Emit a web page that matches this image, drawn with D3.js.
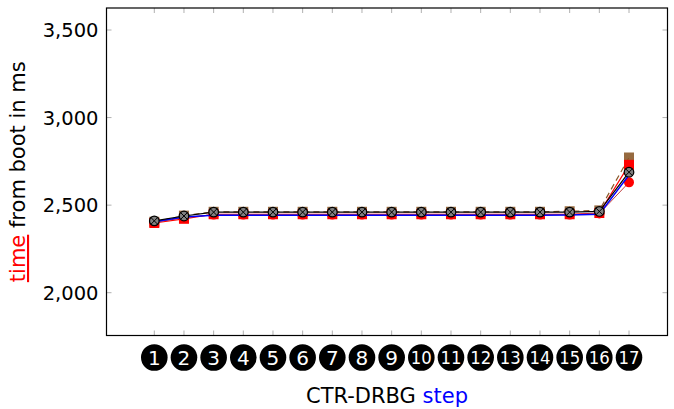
<!DOCTYPE html>
<html><head><meta charset="utf-8">
<script src="https://cdn.jsdelivr.net/npm/d3@7"></script>
<style>body{margin:0;background:#fff}svg{display:block}text{font-family:"DejaVu Sans",sans-serif}</style>
</head><body>
<svg id="c" width="674" height="409"></svg>
<script>
const steps = [1,2,3,4,5,6,7,8,9,10,11,12,13,14,15,16,17];
const yTicks = [2000, 2500, 3000, 3500];
const seriesBrown = [2405,2440,2462,2462,2462,2462,2462,2462,2462,2462,2462,2462,2462,2462,2465,2470,2772];
const seriesRed   = [2398,2422,2448,2448,2448,2448,2448,2448,2448,2448,2448,2448,2448,2448,2448,2455,2730];
const seriesBlue  = [2405,2432,2442,2442,2442,2442,2442,2442,2442,2442,2442,2442,2442,2442,2444,2448,2672];
const seriesRedCircle = [2402,2428,2446,2446,2446,2446,2446,2446,2446,2446,2446,2446,2446,2446,2446,2452,2630];
const seriesBlack = [2410,2438,2460,2460,2460,2460,2460,2460,2460,2460,2460,2460,2460,2460,2460,2464,2688];

const svg = d3.select("#c");
const L = 106.5, R = 667.5, T = 8, B = 335.5;
const x = d3.scaleLinear().domain([1, 17]).range([154.3, 629]);
const y = d3.scaleLinear().domain([2000, 3500]).range([292.7, 30]);

// ticks
const g = svg.append("g");
steps.forEach(s => {
  g.append("line").attr("x1", x(s)).attr("x2", x(s)).attr("y1", B).attr("y2", B-5).attr("stroke", "#b0b0b0").attr("stroke-width", 1);
  g.append("line").attr("x1", x(s)).attr("x2", x(s)).attr("y1", T).attr("y2", T+5).attr("stroke", "#b0b0b0").attr("stroke-width", 1);
});
yTicks.forEach(v => {
  g.append("line").attr("x1", L).attr("x2", L+5).attr("y1", y(v)).attr("y2", y(v)).attr("stroke", "#b0b0b0");
  g.append("line").attr("x1", R).attr("x2", R-5).attr("y1", y(v)).attr("y2", y(v)).attr("stroke", "#b0b0b0");
  g.append("text").attr("x", L-8).attr("y", y(v)).attr("dy", "0.36em").attr("text-anchor", "end")
    .attr("font-size", 19.5).text(d3.format(",")(v));
});

const line = d3.line().x((d,i) => x(steps[i])).y(d => y(d));

// brown dashed squares
svg.append("path").datum(seriesBrown).attr("d", line).attr("fill", "none").attr("stroke", "#8b5a2b").attr("stroke-width", 1.2).attr("stroke-dasharray", "6,4");
svg.selectAll(".bs").data(seriesBrown).enter().append("rect")
  .attr("x", (d,i) => x(steps[i]) - 5).attr("y", d => y(d) - 5).attr("width", 10).attr("height", 10).attr("fill", "#8b5a2b").attr("opacity", 0.9);
// red squares
svg.append("path").datum(seriesRed).attr("d", line).attr("fill", "none").attr("stroke", "red").attr("stroke-width", 1.2);
svg.selectAll(".rs").data(seriesRed).enter().append("rect")
  .attr("x", (d,i) => x(steps[i]) - 5).attr("y", d => y(d) - 5).attr("width", 10).attr("height", 10).attr("fill", "red");
// red circles
svg.append("path").datum(seriesRedCircle).attr("d", line).attr("fill", "none").attr("stroke", "#c04040").attr("stroke-width", 1);
svg.selectAll(".rc").data(seriesRedCircle).enter().append("circle")
  .attr("cx", (d,i) => x(steps[i])).attr("cy", d => y(d)).attr("r", 5).attr("fill", "red");
// blue line
svg.append("path").datum(seriesBlue).attr("d", line).attr("fill", "none").attr("stroke", "blue").attr("stroke-width", 1.4);
svg.selectAll(".bl").data(seriesBlue).enter().append("circle")
  .attr("cx", (d,i) => x(steps[i])).attr("cy", d => y(d)).attr("r", 1.5).attr("fill", "blue");
// black circle-x
svg.append("path").datum(seriesBlack).attr("d", line).attr("fill", "none").attr("stroke", "black").attr("stroke-width", 1.2);
const cx = svg.selectAll(".bx").data(seriesBlack).enter().append("g")
  .attr("transform", (d,i) => `translate(${x(steps[i])},${y(d)})`);
cx.append("circle").attr("r", 4.8).attr("fill", "#808080").attr("stroke", "black").attr("stroke-width", 1.2);
cx.append("path").attr("d", "M-3.4,-3.4L3.4,3.4M-3.4,3.4L3.4,-3.4").attr("stroke", "black").attr("stroke-width", 1);

// frame
svg.append("rect").attr("x", L).attr("y", T).attr("width", R-L).attr("height", B-T).attr("fill", "none").attr("stroke", "black").attr("stroke-width", 1.2);

// circled step labels
const lab = svg.selectAll(".lab").data(steps).enter().append("g")
  .attr("transform", d => `translate(${x(d)},357.5)`);
lab.append("circle").attr("r", 13.3).attr("fill", "black");
lab.append("text").attr("text-anchor", "middle").attr("dy", "0.36em").attr("fill", "white")
  .attr("font-size", d => d >= 10 ? 17 : 20)
  .attr("textLength", d => d >= 10 ? 21 : null).attr("lengthAdjust", "spacingAndGlyphs")
  .text(d => d);

// axis labels
const xl = svg.append("text").attr("x", (L+R)/2).attr("y", 403).attr("text-anchor", "middle").attr("font-size", 21);
xl.append("tspan").text("CTR-DRBG ");
xl.append("tspan").attr("fill", "blue").text("step");
const yl = svg.append("text").attr("transform", `translate(25,${(T+B)/2}) rotate(-90)`).attr("text-anchor", "middle").attr("font-size", 21);
yl.append("tspan").attr("fill", "red").attr("text-decoration", "underline").text("time");
yl.append("tspan").text(" from boot in ms");
</script>
</body></html>
